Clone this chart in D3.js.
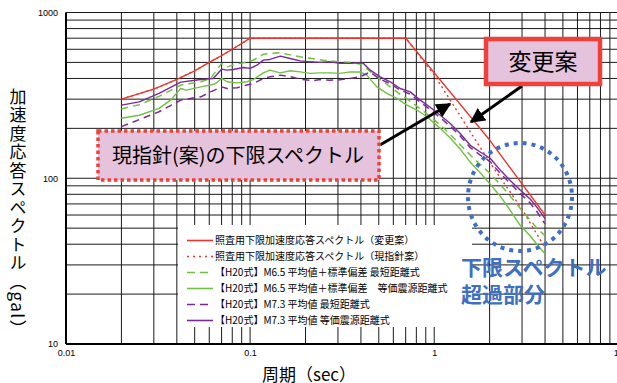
<!DOCTYPE html>
<html>
<head>
<meta charset="utf-8">
<script src="https://cdn.jsdelivr.net/npm/d3@7"></script>
<style>
  html, body { margin: 0; padding: 0; background: #fff; }
  svg { display: block; }
  .jp { font-family: "Noto Sans CJK JP", "Noto Sans", sans-serif; }
  .num { font-family: "Liberation Sans", Arial, sans-serif; }
</style>
</head>
<body>
<svg id="chart" width="617" height="383"></svg>
<script>
// Period axis ticks (sec) and acceleration axis ticks (gal)
const xTicks = [0.01, 0.1, 1, 10];
const yTicks = [10, 100, 1000];

// Lower-limit spectrum, revised proposal [period, gal]
const lowerRevised = [[0.02,300],[0.03,345],[0.04,395],[0.05,445],[0.06,500],[0.07,550],[0.08,600],[0.09,650],[0.1,700],[0.7,700],[2,170],[4,60]];
// Lower-limit spectrum, current guideline proposal
const lowerCurrent = [[0.02,300],[0.03,345],[0.04,395],[0.05,445],[0.06,500],[0.07,550],[0.08,600],[0.09,650],[0.1,700],[0.7,700],[1,420],[2,125],[3,65],[4,38]];
// H20 M6.5 mean + sigma, shortest distance
const m65Shortest = [[0.02,262],[0.025,278],[0.032,312],[0.042,365],[0.054,382],[0.061,400],[0.07,493],[0.075,470],[0.085,490],[0.096,500],[0.104,515],[0.118,560],[0.128,566],[0.142,572],[0.165,555],[0.187,540],[0.212,530],[0.25,515],[0.3,505],[0.35,500],[0.4,488],[0.45,440],[0.5,400],[0.58,355],[0.65,322],[0.74,292],[0.84,262],[0.95,236],[1.08,210],[1.22,184],[1.38,160],[1.57,138],[1.78,121],[2.01,107],[2.28,92],[2.59,78],[2.93,66],[3.32,56],[3.61,50],[4.0,45]];
// H20 M6.5 mean + sigma, equivalent hypocentral distance
const m65Equivalent = [[0.02,230],[0.025,240],[0.032,264],[0.037,296],[0.042,348],[0.045,340],[0.054,356],[0.061,365],[0.065,373],[0.07,400],[0.075,382],[0.085,376],[0.096,382],[0.104,394],[0.118,432],[0.128,449],[0.146,432],[0.165,445],[0.187,438],[0.212,429],[0.24,432],[0.272,432],[0.308,429],[0.349,438],[0.396,438],[0.431,419],[0.488,356],[0.553,325],[0.627,303],[0.711,276],[0.805,258],[0.912,235],[1.078,200],[1.222,175],[1.384,150],[1.57,125],[1.778,108],[2.014,92],[2.284,78],[2.588,64],[2.93,52],[3.32,45],[3.61,40],[4.0,35]];
// H20 M7.3 mean, shortest distance
const m73Shortest = [[0.02,205],[0.025,226],[0.032,252],[0.042,296],[0.054,310],[0.061,332],[0.07,356],[0.075,348],[0.085,352],[0.096,365],[0.104,373],[0.118,400],[0.128,409],[0.146,419],[0.165,410],[0.19,395],[0.22,388],[0.24,394],[0.27,390],[0.3,392],[0.349,400],[0.396,409],[0.449,438],[0.5,400],[0.577,372],[0.654,340],[0.741,322],[0.839,288],[0.951,260],[1.078,232],[1.222,206],[1.384,180],[1.57,153],[1.778,138],[2.014,126],[2.284,107],[2.588,93],[2.93,81],[3.32,71],[3.61,63],[4.0,53]];
// H20 M7.3 mean, equivalent hypocentral distance
const m73Equivalent = [[0.02,276],[0.025,289],[0.032,325],[0.042,380],[0.054,394],[0.063,400],[0.07,455],[0.075,449],[0.081,453],[0.092,466],[0.1,460],[0.109,481],[0.118,516],[0.128,521],[0.146,545],[0.165,528],[0.187,511],[0.212,504],[0.24,500],[0.272,504],[0.308,493],[0.349,493],[0.396,497],[0.413,493],[0.449,449],[0.509,409],[0.577,382],[0.654,348],[0.741,332],[0.839,296],[0.951,268],[1.078,240],[1.222,214],[1.384,186],[1.57,158],[1.778,144],[2.014,132],[2.284,112],[2.588,97],[2.93,85],[3.32,75],[3.61,67],[4.0,57]];

const seriesNames = [
  "照査用下限加速度応答スペクトル（変更案）",
  "照査用下限加速度応答スペクトル（現指針案）",
  "【H20式】M6.5 平均値＋標準偏差 最短距離式",
  "【H20式】M6.5 平均値＋標準偏差　等価震源距離式",
  "【H20式】M7.3 平均値 最短距離式",
  "【H20式】M7.3 平均値 等価震源距離式"
];

const RED = "#f0332a", GREEN = "#72c043", PURPLE = "#7a2a96";
const series = [
  { data: lowerCurrent,  color: RED,    dash: "2,3.2", width: 1.4 },
  { data: m65Shortest,   color: GREEN,  dash: "7,5",   width: 1.5 },
  { data: m65Equivalent, color: GREEN,  dash: null,    width: 1.4 },
  { data: m73Shortest,   color: PURPLE, dash: "7,5",   width: 1.5 },
  { data: m73Equivalent, color: PURPLE, dash: null,    width: 1.4 },
  { data: lowerRevised,  color: RED,    dash: null,    width: 1.4 }
];
// legend order follows seriesNames
const legendStyle = [series[5], series[0], series[1], series[2], series[3], series[4]];

const svg = d3.select("#chart");
const plotLeft = 66, plotRight = 618.3, plotTop = 12.5, plotBottom = 344;
const x = d3.scaleLog().domain([0.01, 10]).range([plotLeft, plotRight]);
const y = d3.scaleLog().domain([10, 1000]).range([plotBottom, plotTop]);

// grid: every integer multiple within each decade
const grid = svg.append("g").attr("stroke", "#1a1a1a").attr("stroke-width", 1);
const xGrid = [], yGrid = [];
[0.01, 0.1, 1].forEach(d => { for (let k = 1; k <= 9; k++) xGrid.push(+(d * k).toPrecision(3)); });
xGrid.push(10);
[10, 100].forEach(d => { for (let k = 1; k <= 9; k++) yGrid.push(d * k); });
yGrid.push(1000);
grid.selectAll("line.v").data(xGrid.filter(v => v > 0.01)).join("line").attr("class", "v")
  .attr("x1", d => x(d)).attr("x2", d => x(d)).attr("y1", plotTop).attr("y2", plotBottom);
grid.selectAll("line.h").data(yGrid.filter(v => v > 10)).join("line").attr("class", "h")
  .attr("x1", plotLeft).attr("x2", 617).attr("y1", d => y(d)).attr("y2", d => y(d));

// axes frame
svg.append("line").attr("x1", plotLeft).attr("x2", plotLeft).attr("y1", plotTop).attr("y2", plotBottom)
  .attr("stroke", "#000").attr("stroke-width", 2);
svg.append("line").attr("x1", plotLeft).attr("x2", 617).attr("y1", plotBottom).attr("y2", plotBottom)
  .attr("stroke", "#000").attr("stroke-width", 2);

// tick labels through d3 axes
const xAxis = svg.append("g").attr("transform", `translate(0,${plotBottom})`)
  .call(d3.axisBottom(x).tickValues(xTicks).tickSize(0).tickPadding(6).tickFormat(d => String(d)));
const yAxis = svg.append("g").attr("transform", `translate(${plotLeft},0)`)
  .call(d3.axisLeft(y).tickValues(yTicks).tickSize(0).tickPadding(8).tickFormat(d => String(d)));
[xAxis, yAxis].forEach(a => {
  a.select(".domain").remove();
  a.selectAll("text").attr("class", "num").attr("font-size", 9).attr("fill", "#000");
});

// spectra
const line = d3.line().x(d => x(d[0])).y(d => y(d[1]));
svg.append("g").selectAll("path").data(series).join("path")
  .attr("d", d => line(d.data))
  .attr("fill", "none")
  .attr("stroke", d => d.color)
  .attr("stroke-width", d => d.width)
  .attr("stroke-dasharray", d => d.dash)
  .attr("stroke-linejoin", "round");

// legend
const lg = svg.append("g");
lg.append("rect").attr("x", 178).attr("y", 225).attr("width", 294).attr("height", 102).attr("fill", "#fff");
const rows = lg.selectAll("g").data(seriesNames).join("g")
  .attr("transform", (d, i) => `translate(0,${240.5 + i * 16})`);
rows.append("line").attr("x1", 187).attr("x2", 213).attr("y1", 0).attr("y2", 0)
  .attr("stroke", (d, i) => legendStyle[i].color)
  .attr("stroke-width", 1.6)
  .attr("stroke-dasharray", (d, i) => legendStyle[i].dash ? (legendStyle[i].color === RED ? "2,4" : "8,5") : null);
rows.append("text").attr("class", "jp").attr("x", 215).attr("y", 0).attr("dy", "0.35em")
  .attr("font-size", 10).attr("fill", "#000").text(d => d);

// axis titles
svg.append("text").attr("class", "jp").attr("x", 309).attr("y", 381)
  .attr("text-anchor", "middle").attr("font-size", 17).attr("fill", "#000")
  .text("周期（sec）");
svg.append("text").attr("class", "jp").attr("x", 18).attr("y", 88)
  .attr("font-size", 17).attr("fill", "#000")
  .style("writing-mode", "vertical-rl").style("text-orientation", "mixed")
  .attr("letter-spacing", 1.5)
  .text("加速度応答スペクトル（gal）");

// arrows
const defs = svg.append("defs");
defs.append("marker").attr("id", "head").attr("viewBox", "0 0 10 10")
  .attr("refX", 9).attr("refY", 5).attr("markerWidth", 5).attr("markerHeight", 5)
  .attr("orient", "auto").attr("markerUnits", "strokeWidth")
  .append("path").attr("d", "M0,0 L10,5 L0,10 z").attr("fill", "#000");
const arrows = [[380, 145, 450, 104], [522, 86, 471, 122]];
svg.append("g").selectAll("line").data(arrows).join("line")
  .attr("x1", d => d[0]).attr("y1", d => d[1]).attr("x2", d => d[2]).attr("y2", d => d[3])
  .attr("stroke", "#000").attr("stroke-width", 3).attr("marker-end", "url(#head)");

// callout: current guideline spectrum
svg.append("rect").attr("x", 98).attr("y", 131).attr("width", 281).attr("height", 49)
  .attr("fill", "#e6c3dd").attr("stroke", "#f0403a").attr("stroke-width", 3.5)
  .attr("stroke-dasharray", "3.5,3");
svg.append("text").attr("class", "jp").attr("x", 238).attr("y", 156).attr("dy", "0.36em")
  .attr("text-anchor", "middle").attr("font-size", 20).attr("fill", "#000")
  .text("現指針(案)の下限スペクトル");

// callout: revised proposal
svg.append("rect").attr("x", 486).attr("y", 39).attr("width", 114).attr("height", 45)
  .attr("fill", "#e6c3dd").attr("stroke", "#f0403a").attr("stroke-width", 4.5);
svg.append("text").attr("class", "jp").attr("x", 543).attr("y", 61.5).attr("dy", "0.36em")
  .attr("text-anchor", "middle").attr("font-size", 23).attr("fill", "#000")
  .text("変更案");

// exceedance region
svg.append("ellipse").attr("cx", 520).attr("cy", 197).attr("rx", 52).attr("ry", 54)
  .attr("fill", "none").attr("stroke", "#3f6fc0").attr("stroke-width", 4)
  .attr("stroke-dasharray", "4,5");
const blue = svg.append("g").attr("class", "jp").attr("fill", "#3f6fc0")
  .attr("font-size", 21).attr("font-weight", "bold");
blue.append("text").attr("x", 461).attr("y", 275).text("下限スペクトル");
blue.append("text").attr("x", 461).attr("y", 302).text("超過部分");
</script>
</body>
</html>
